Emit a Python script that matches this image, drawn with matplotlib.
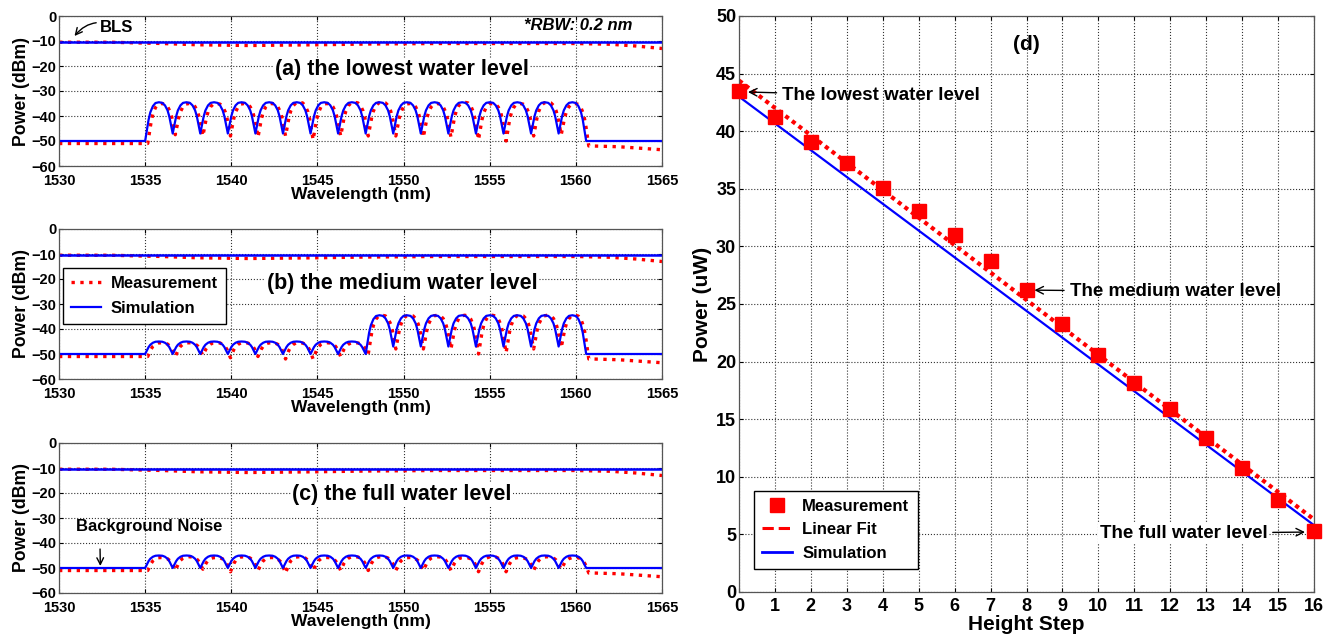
import matplotlib
matplotlib.use("Agg")
import matplotlib.pyplot as plt
from matplotlib.lines import Line2D

plt.rcParams['font.family'] = ['Liberation Sans', 'DejaVu Sans']
plt.rcParams['font.weight'] = 'bold'
plt.rcParams['axes.labelweight'] = 'bold'

# ---- spectra (a)-(c): lobe layout ----
lobe_start = [1535.0, 1536.6, 1538.2, 1539.8, 1541.4, 1543.0, 1544.6, 1546.2,
              1547.8, 1549.4, 1551.0, 1552.6, 1554.2, 1555.8, 1557.4, 1559.0]
# one lobe, dip -> peak -> dip (offset in nm, fraction of depth below peak)
lobe_off = [0.0, 0.1, 0.2, 0.3, 0.45, 0.6, 0.8, 1.0, 1.15, 1.3, 1.4, 1.5, 1.6]
lobe_shape = [1.0, 0.72, 0.45, 0.26, 0.1, 0.02, 0.0, 0.02, 0.1, 0.26, 0.45, 0.72, 1.0]

# top (BLS) traces
top_sim_x = [1530, 1565]
top_sim_y = [-10.4, -10.4]
top_meas_x = [1530, 1533, 1536, 1538, 1541, 1545, 1548, 1552, 1556, 1560, 1562, 1563.5, 1565]
top_meas_y = [-10.5, -10.5, -11.0, -11.5, -11.8, -11.5, -11.2, -11.0, -11.0, -11.0, -11.3, -12.0, -13.0]

# tails beyond the grating band
sim_tail_x = [1565.0]
sim_tail_y = [-50.0]
meas_tail_x = [1561.0, 1562.5, 1564.0, 1565.0]
meas_tail_y = [-52.0, -52.3, -53.0, -53.5]

# (a) lowest water level
a_sim_peaks = [-34.5] * 16
a_sim_dips = [-50, -47, -47, -47, -47, -47, -47, -47, -47, -47, -47, -47, -47, -47, -47, -47, -50]
a_meas_peaks = [-35, -35, -35, -35, -35, -34.5, -35, -34.5, -34.5, -35, -35, -34.5, -35, -35, -34.5, -35]
a_meas_dips = [-51, -47.5, -48, -48, -48.5, -48, -49.5, -48, -48, -48, -48.5, -48.5, -49.5, -50, -48, -47.5, -52]

# (b) medium water level
b_sim_peaks = [-45, -45, -45, -45, -45, -45, -45, -45, -34.5, -34.5, -34.5, -34.5, -34.5, -34.5, -34.5, -34.5]
b_sim_dips = [-50, -50, -50, -50, -50, -50, -50, -50, -50, -47, -47, -47, -47, -47, -47, -47, -50]
b_meas_peaks = [-45.5, -45.5, -45.5, -45.5, -45.5, -45.5, -45.5, -45.5, -34.5, -34.5, -34.5, -34.5, -34.5, -34.5, -34.5, -34.5]
b_meas_dips = [-51, -51, -50.5, -51.5, -51, -52, -52, -51, -50, -48, -48, -48, -50, -49.5, -48, -47.5, -52]

# (c) full water level
c_sim_peaks = [-45] * 16
c_sim_dips = [-50] * 17
c_meas_peaks = [-45.8, -45.5, -45.8, -45.5, -45.8, -45.5, -45.8, -45.5, -45.5, -45.8, -45.5, -45.8, -45.5, -45.8, -45.5, -45.8]
c_meas_dips = [-51, -51, -50.5, -51.5, -51, -52, -51, -51, -51, -51, -51, -51, -51.5, -51.5, -51, -50.5, -52]

# ---- (d) power vs height step ----
steps = [0, 1, 2, 3, 4, 5, 6, 7, 8, 9, 10, 11, 12, 13, 14, 15, 16]
meas_power = [43.5, 41.2, 39.1, 37.2, 35.1, 33.1, 31.0, 28.7, 26.2, 23.3, 20.6, 18.1, 15.9, 13.4, 10.8, 8.0, 5.3]
fit_x = [0, 16]
fit_y = [44.4, 6.3]
sim_x = [0, 16]
sim_y = [43.0, 5.8]

RED = '#ff0000'
BLUE = '#0000ff'


def comb(peaks, dips, shift, tail_x, tail_y):
    xs = [1530.0]
    ys = [dips[0]]
    for i, pk in enumerate(peaks):
        for off, frac in zip(lobe_off, lobe_shape):
            if i > 0 and off == 0.0:
                continue
            edge = dips[i] if off <= 0.8 else dips[i + 1]
            xs.append(lobe_start[i] + shift + off)
            ys.append(pk - (pk - edge) * frac)
    return xs + tail_x, ys + tail_y


def style_axes(ax, size, xpad=4):
    ax.grid(True, linestyle=':', color='#333333', linewidth=0.8)
    ax.set_axisbelow(True)
    ax.tick_params(direction='in', top=True, right=True, labelsize=size, length=3)
    ax.tick_params(axis='x', pad=xpad)
    ax.tick_params(axis='y', pad=2)
    for lab in ax.get_xticklabels() + ax.get_yticklabels():
        lab.set_fontweight('bold')
    for s in ax.spines.values():
        s.set_color('#555555')
        s.set_linewidth(0.9)


fig = plt.figure(figsize=(13.35, 6.38), dpi=100)
W, H = 1335.0, 638.0
L, R = 59, 662

spectra = [
    ((16, 166), a_sim_peaks, a_sim_dips, a_meas_peaks, a_meas_dips, '(a) the lowest water level', -21.6),
    ((229, 379), b_sim_peaks, b_sim_dips, b_meas_peaks, b_meas_dips, '(b) the medium water level', -21.9),
    ((443, 593), c_sim_peaks, c_sim_dips, c_meas_peaks, c_meas_dips, '(c) the full water level', -20.7),
]

spec_axes = []
for (top, bot), sp, sd, mp, md, title, ty in spectra:
    ax = fig.add_axes([L / W, 1 - bot / H, (R - L) / W, (bot - top) / H])
    mx, my = comb(mp, md, 0.15, meas_tail_x, meas_tail_y)
    sx, sy = comb(sp, sd, 0.0, sim_tail_x, sim_tail_y)
    ax.plot(top_meas_x, top_meas_y, color=RED, linestyle=':', linewidth=2.4)
    ax.plot(top_sim_x, top_sim_y, color=BLUE, linewidth=1.8)
    ax.plot(mx, my, color=RED, linestyle=':', linewidth=2.4, label='Measurement')
    ax.plot(sx, sy, color=BLUE, linewidth=1.6, label='Simulation')
    ax.set_xlim(1530, 1565)
    ax.set_ylim(-60, 0)
    ax.set_xticks([1530, 1535, 1540, 1545, 1550, 1555, 1560, 1565])
    ax.set_yticks([0, -10, -20, -30, -40, -50, -60])
    ax.set_xlabel('Wavelength (nm)', fontsize=12.5, fontweight='bold', labelpad=-1)
    ax.set_ylabel('Power (dBm)', fontsize=12.7, fontweight='bold', labelpad=1)
    ax.text(1549.9, ty, title, fontsize=15.5, fontweight='bold', ha='center', va='center',
            bbox=dict(facecolor='white', edgecolor='none', pad=1))
    style_axes(ax, 10.5, xpad=6)
    spec_axes.append(ax)

ax_a, ax_b, ax_c = spec_axes
ax_a.text(1563.3, -3.8, '*RBW: 0.2 nm', fontsize=12, fontweight='bold', style='italic',
          ha='right', va='center')
ax_a.annotate('BLS', xy=(1530.9, -8.0), xytext=(1532.4, -4.5), fontsize=12, fontweight='bold',
              va='center', ha='left',
              arrowprops=dict(arrowstyle='->', color='k', lw=1,
                              connectionstyle='arc3,rad=0.4', shrinkA=1, shrinkB=0))
ax_b.legend(loc='upper left', bbox_to_anchor=(0.006, 0.743), borderaxespad=0, frameon=True,
            fancybox=False, edgecolor='k', framealpha=1, handlelength=1.8, handletextpad=0.6,
            borderpad=0.5, labelspacing=0.6, prop={'weight': 'bold', 'size': 12})
ax_c.annotate('Background Noise', xy=(1532.4, -49.2), xytext=(1531.0, -33.3), fontsize=12,
              fontweight='bold', va='center', ha='left',
              arrowprops=dict(arrowstyle='->', color='k', lw=1, shrinkA=9, shrinkB=0,
                              relpos=(0.16, 0.5)))

# ---- panel (d) ----
axd = fig.add_axes([739 / W, 1 - 592 / H, (1314 - 739) / W, (592 - 16) / H])
axd.plot(sim_x, sim_y, color=BLUE, linewidth=1.6)
axd.plot(fit_x, fit_y, color=RED, linestyle=(0, (1, 1)), linewidth=3)
axd.plot(steps, meas_power, linestyle='none', marker='s', markersize=10, color=RED,
         clip_on=False, zorder=5)
axd.set_xlim(0, 16)
axd.set_ylim(0, 50)
axd.set_xticks(steps)
axd.set_yticks([0, 5, 10, 15, 20, 25, 30, 35, 40, 45, 50])
axd.set_xlabel('Height Step', fontsize=15, fontweight='bold', labelpad=0)
axd.set_ylabel('Power (uW)', fontsize=15, fontweight='bold', labelpad=3)
style_axes(axd, 13)

axd.text(8, 47.5, '(d)', fontsize=15, fontweight='bold', ha='center', va='center')
axd.annotate('The lowest water level', xy=(0.25, 43.4), xytext=(1.2, 43.1), fontsize=13.5,
             fontweight='bold', va='center', ha='left',
             arrowprops=dict(arrowstyle='->', color='k', lw=1, shrinkA=2, shrinkB=0))
axd.annotate('The medium water level', xy=(8.22, 26.2), xytext=(9.2, 26.1), fontsize=13.5,
             fontweight='bold', va='center', ha='left',
             arrowprops=dict(arrowstyle='->', color='k', lw=1, shrinkA=2, shrinkB=0))
axd.annotate('The full water level', xy=(15.75, 5.2), xytext=(14.7, 5.1), fontsize=13.5,
             fontweight='bold', va='center', ha='right',
             bbox=dict(facecolor='white', edgecolor='none', pad=1),
             arrowprops=dict(arrowstyle='->', color='k', lw=1, shrinkA=3, shrinkB=0))

handles = [
    Line2D([], [], linestyle='none', marker='s', markersize=10, color=RED),
    Line2D([], [], linestyle='--', linewidth=2.2, color=RED),
    Line2D([], [], linewidth=2, color=BLUE),
]
axd.legend(handles, ['Measurement', 'Linear Fit', 'Simulation'], loc='lower left',
           bbox_to_anchor=(0.026, 0.04), borderaxespad=0, fancybox=False, edgecolor='k',
           framealpha=1, handlelength=1.8, handletextpad=0.6, borderpad=0.5,
           labelspacing=0.5, prop={'weight': 'bold', 'size': 12})

fig.savefig('out.png', dpi=100)
